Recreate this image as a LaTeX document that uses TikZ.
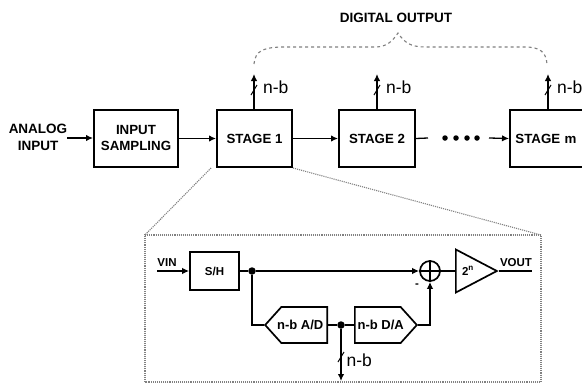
\documentclass[tikz,border=0pt]{standalone}
\usepackage{fontspec}
\setmainfont{Liberation Sans}
\usetikzlibrary{arrows.meta,shapes.geometric,shapes.symbols}
\tikzset{
  blockbox/.style={draw,line width=2pt,inner sep=0pt,align=center,font=\fontsize{13.3}{16.5}\selectfont\bfseries},
  smallbox/.style={draw,line width=1.7pt,inner sep=0pt,font=\fontsize{11.5}{13}\selectfont\bfseries},
  converter/.style={draw,line width=1.7pt,shape=signal,signal from=nowhere,signal pointer angle=96,inner sep=0pt,
    minimum height=36pt,minimum width=62pt,font=\fontsize{13}{15}\selectfont\bfseries},
  wire/.style={line width=1.3pt},
  bigtext/.style={font=\fontsize{13.5}{17}\selectfont\bfseries,align=center},
  smalltext/.style={font=\fontsize{11.5}{13}\selectfont\bfseries},
  bitstext/.style={font=\fontsize{17.5}{18}\selectfont},
  junction/.style={circle,fill,inner sep=0pt,minimum size=7.5pt},
  faint/.style={gray,line width=1.1pt}
}
\begin{document}
\begin{tikzpicture}[x=1pt,y=-1pt,>={Latex[length=7pt,width=6.5pt]}]
\useasboundingbox (0,0) rectangle (582,383);
% upper chain
\node[bigtext] (analog) at (38,137) {ANALOG\\INPUT};
\node[blockbox,minimum width=84pt,minimum height=57pt] (sampling) at (136,138) {INPUT\\SAMPLING};
\node[blockbox,minimum width=75pt,minimum height=57pt] (stage1) at (254.5,138.5) {STAGE 1};
\node[blockbox,minimum width=76pt,minimum height=57pt] (stage2) at (377,138.5) {STAGE 2};
\node[blockbox,minimum width=76pt,minimum height=57pt,text width=74pt] (stagem) at (548,138.5) {\hspace*{-4pt}STAGE m};
\coordinate (analogend) at (67,138);
\coordinate (stage2end) at (428,138);
\coordinate (stagemstart) at (489,138);
\draw[wire,->] (analogend) -- (sampling.west |- analogend);
\draw[wire,->] (sampling.east |- stage1) -- (stage1.west);
\draw[wire,->] (stage1.east) -- (stage2.west);
\draw[wire] (stage2.east) -- (stage2end);
\draw[wire,->] (stagemstart) -- (stagem.west);
\foreach \i/\x in {1/445,2/456,3/467,4/477}
  \node[junction,minimum size=5.5pt] (dot\i) at (\x,138) {};
% digital outputs
\foreach \s/\x in {stage1/254,stage2/377,stagem/548} {
  \coordinate (\s top) at (\x,74);
  \coordinate (\s mark) at (\x,90);
  \draw[wire,->] (\s.north -| \s top) -- (\s top);
  \draw[line width=1pt] ([shift={(-3,5)}]\s mark) -- ([shift={(3,-5)}]\s mark);
  \node[bitstext,anchor=west] (\s bits) at (\x+5.5,87) {n-b};
}
\node[bigtext] (digital) at (396,18) {DIGITAL OUTPUT};
\coordinate (bracel) at (254,64);
\coordinate (bracer) at (547,64);
\coordinate (bracetip) at (398,33);
\draw[faint,dashed] (bracel) .. controls (255,50) and (265,47) .. (285,47) -- (375,47)
  .. controls (386,47) and (392,42) .. (bracetip) .. controls (404,42) and (410,47) .. (425,47)
  -- (525,47) .. controls (540,47) and (546,52) .. (bracer);
% enlarged stage
\coordinate (zoomtl) at (145,235);
\coordinate (zoomtr) at (541,235);
\coordinate (zoombr) at (541,382);
\coordinate (zoombl) at (145,382);
\draw[faint,densely dotted] (zoombl) -- (zoomtl) -- (zoomtr) -- (zoombr) -- cycle;
\draw[faint,densely dotted] ([xshift=-5pt]stage1.south west) -- (zoomtl);
\draw[faint,densely dotted] (stage1.south east) -- (zoomtr);
\node[smalltext] (vin) at (167,263) {VIN};
\coordinate (vinstart) at (157,271);
\node[smallbox,minimum width=49pt,minimum height=38pt] (sh) at (214.5,271) {S/H};
\node[junction] (split) at (252,271) {};
\node[draw,circle,line width=1.7pt,minimum size=20pt,inner sep=0pt] (sum) at (430,271) {};
\draw[wire] (sum.north) -- (sum.south) (sum.west) -- (sum.east);
\node[draw,line width=1.7pt,isosceles triangle,isosceles triangle apex angle=55,isosceles triangle stretches,
  minimum height=41pt,minimum width=43pt,inner sep=0pt,anchor=west] (amp) at (455,271) {};
\node[smalltext] (gain) at (468,271) {2$^{\mathbf{n}}$};
\node[smalltext] (vout) at (516,263) {VOUT};
\coordinate (voutend) at (532,271);
\node[converter,signal to=west,anchor=east] (adc) at (328,325) {\hspace*{-8pt}n-b A/D};
\node[converter,signal to=east,anchor=west] (dac) at (354,325) {n-b D/A\hspace*{-6pt}};
\node[junction] (code) at (341,325) {};
\coordinate (codeend) at (341,381);
\coordinate (codemark) at (341,357);
\node[bitstext,anchor=west] (codebits) at (343,360) {n-b};
\node[smalltext] (minus) at (417,286) {-};
\draw[wire,->] (vinstart) -- (sh.west);
\draw[wire] (sh.east) -- (split);
\draw[wire,->] (split) -- (sum.west);
\draw[wire] (sum.east) -- (amp.west);
\draw[wire] (amp.east) -- (voutend);
\draw[wire] (split) |- (adc.west);
\draw[wire] (adc.east) -- (code);
\draw[wire] (code) -- (dac.west);
\draw[wire,->] (dac.east) -| (sum.south);
\draw[wire,->] (code) -- (codeend);
\draw[line width=1pt] ([shift={(-3,5)}]codemark) -- ([shift={(3,-5)}]codemark);
\end{tikzpicture}
\end{document}
